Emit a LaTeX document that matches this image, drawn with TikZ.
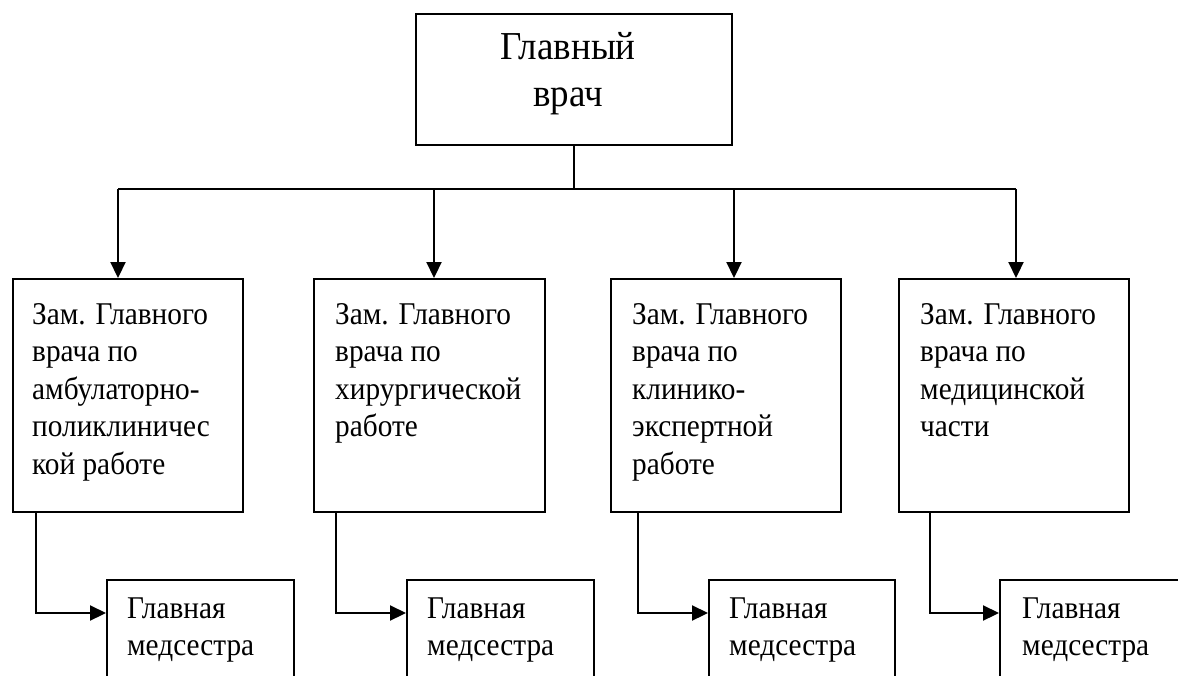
\documentclass[tikz,border=0pt]{standalone}
\usepackage{fontspec}
\setmainfont{Liberation Serif}
\usetikzlibrary{arrows.meta}
\newcommand{\boxlines}[1]{\scalebox{1}[1.08]{\begin{tabular}[b]{@{}l@{}}#1\end{tabular}}}
\newcommand{\titlelines}[1]{\scalebox{1}[1.07]{\begin{tabular}[b]{@{}c@{}}#1\end{tabular}}}
\begin{document}
\begin{tikzpicture}[x=1pt,y=-1pt,
  box/.style={draw, line width=1.6pt, inner sep=0pt, anchor=north west},
  txt/.style={anchor=base west, inner sep=0pt, font=\fontsize{29.3}{34.72}\selectfont},
  ttl/.style={anchor=base, inner sep=0pt, font=\fontsize{37}{43.9}\selectfont},
  ln/.style={line width=1.7pt},
  arr/.style={line width=2.2pt, -{Triangle[length=16pt,width=15pt]}},
]
\useasboundingbox (0,0) rectangle (1178,675);
\clip (0,0) rectangle (1178,675);
% top box
\node[box, minimum width=316pt, minimum height=131pt] (top) at (415,13) {};
\node[ttl] (toptxt) at (568,106) {\titlelines{Главный\\врач}};
% deputy boxes
\node[box, minimum width=230pt, minimum height=233pt] (z1) at (12,278) {};
\node[box, minimum width=231pt, minimum height=233pt] (z2) at (313,278) {};
\node[box, minimum width=230pt, minimum height=233pt] (z3) at (610,278) {};
\node[box, minimum width=230pt, minimum height=233pt] (z4) at (898,278) {};
\node[txt] (t1) at (32,474) {\boxlines{Зам. Главного\\врача по\\амбулаторно-\\поликлиничес\\кой работе}};
\node[txt] (t2) at (335,436.5) {\boxlines{Зам. Главного\\врача по\\хирургической\\работе}};
\node[txt] (t3) at (632,474) {\boxlines{Зам. Главного\\врача по\\клинико-\\экспертной\\работе}};
\node[txt] (t4) at (920,436.5) {\boxlines{Зам. Главного\\врача по\\медицинской\\части}};
% nurse boxes
\node[box, minimum width=187pt, minimum height=150pt] (m1) at (106,579) {};
\node[box, minimum width=187pt, minimum height=150pt] (m2) at (406,579) {};
\node[box, minimum width=186pt, minimum height=150pt] (m3) at (708,579) {};
\node[box, minimum width=210pt, minimum height=150pt] (m4) at (999,579) {};
\node[txt] (n1) at (127,655.5) {\boxlines{Главная\\медсестра}};
\node[txt] (n2) at (427,655.5) {\boxlines{Главная\\медсестра}};
\node[txt] (n3) at (729,655.5) {\boxlines{Главная\\медсестра}};
\node[txt] (n4) at (1022,655.5) {\boxlines{Главная\\медсестра}};
% bus
\coordinate (b0) at (574,189);
\coordinate (b1) at (118,189);
\coordinate (b2) at (434,189);
\coordinate (b3) at (734,189);
\coordinate (b4) at (1016,189);
\draw[ln] (b0 |- top.south) -- (b0);
\draw[ln] (b1) -- (b4);
\draw[arr] (b1) -- (b1 |- z1.north);
\draw[arr] (b2) -- (b2 |- z2.north);
\draw[arr] (b3) -- (b3 |- z3.north);
\draw[arr] (b4) -- (b4 |- z4.north);
% deputy to nurse
\coordinate (c1) at (36,613);
\coordinate (c2) at (336,613);
\coordinate (c3) at (638,613);
\coordinate (c4) at (930,613);
\draw[arr] (c1 |- z1.south) -- (c1) -- (c1 -| m1.west);
\draw[arr] (c2 |- z2.south) -- (c2) -- (c2 -| m2.west);
\draw[arr] (c3 |- z3.south) -- (c3) -- (c3 -| m3.west);
\draw[arr] (c4 |- z4.south) -- (c4) -- (c4 -| m4.west);
\end{tikzpicture}
\end{document}
